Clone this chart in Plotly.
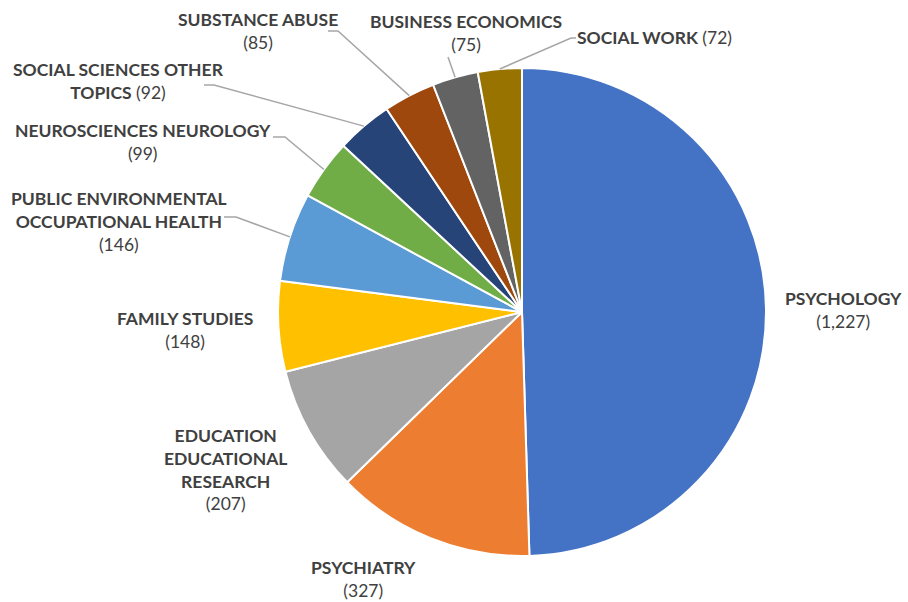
import math
import plotly.graph_objects as go

# Web of Science research areas and record counts
categories = [
    "PSYCHOLOGY", "PSYCHIATRY", "EDUCATION EDUCATIONAL RESEARCH", "FAMILY STUDIES",
    "PUBLIC ENVIRONMENTAL OCCUPATIONAL HEALTH", "NEUROSCIENCES NEUROLOGY",
    "SOCIAL SCIENCES OTHER TOPICS", "SUBSTANCE ABUSE", "BUSINESS ECONOMICS", "SOCIAL WORK",
]
counts = [1227, 327, 207, 148, 146, 99, 92, 85, 75, 72]

# How each category name is broken onto lines in its label
label_lines = [
    ["PSYCHOLOGY"], ["PSYCHIATRY"], ["EDUCATION", "EDUCATIONAL", "RESEARCH"],
    ["FAMILY STUDIES"], ["PUBLIC ENVIRONMENTAL", "OCCUPATIONAL HEALTH"],
    ["NEUROSCIENCES NEUROLOGY"], ["SOCIAL SCIENCES OTHER", "TOPICS"],
    ["SUBSTANCE ABUSE"], ["BUSINESS ECONOMICS"], ["SOCIAL WORK"],
]
# value goes on its own line (True) or after the last name line (False)
value_own_line = [True, True, True, True, True, True, False, True, True, False]

colors = ["#4472C4", "#ED7D31", "#A5A5A5", "#FFC000", "#5B9BD5",
          "#70AD47", "#264478", "#9E480E", "#636363", "#997300"]

# ---- layout (pixels) ----
W, H = 908, 602
CX, CY, R = 522, 312, 244

# label text positions (x, y, anchor)
label_pos = [
    (843, 310, "center"), (363, 579, "center"), (225, 469, "center"),
    (185, 330, "center"), (119, 222, "center"), (143, 142, "center"),
    (118, 81, "center"), (258, 31, "center"), (466, 33, "center"),
    (575, 37, "left"),
]
# leader line: points from the label side toward the slice edge (None = no line)
leader_pts = [
    None, None, None, None,
    [(224, 217), (236, 217)],
    [(273, 137), (285, 137)],
    [(204, 85), (214, 85)],
    [(328, 31), (338, 31)],
    [(448, 57)],
    [(576, 38), (571, 38)],
]

TEXT = "#404040"
FONT = "Lato"
FS = 17.5


def px(x):
    return x / W


def py(y):
    return 1 - y / H


fig = go.Figure(go.Pie(
    labels=categories, values=counts, sort=False, direction="clockwise", rotation=0,
    marker=dict(colors=colors, line=dict(color="white", width=2)),
    textinfo="none", hoverinfo="label+value", showlegend=False,
    domain=dict(x=[px(CX - R), px(CX + R)], y=[py(CY + R), py(CY - R)]),
))

total = sum(counts)
shapes = []
annotations = []
cum = 0
for i, v in enumerate(counts):
    mid = (cum + v / 2) / total * 2 * math.pi
    cum += v
    ex = CX + R * math.sin(mid)
    ey = CY - R * math.cos(mid)
    if leader_pts[i]:
        pts = leader_pts[i] + [(ex, ey)]
        path = "M " + " L ".join(f"{px(x)},{py(y)}" for x, y in pts)
        shapes.append(dict(type="path", path=path, xref="paper", yref="paper",
                           line=dict(color="#A6A6A6", width=1.5)))

    names = label_lines[i]
    val = f"({v:,})"
    if value_own_line[i]:
        text = "<br>".join(f"<b>{n}</b>" for n in names) + "<br>" + val
    else:
        text = "<br>".join(f"<b>{n}</b>" for n in names) + " " + val
    lx, ly, anc = label_pos[i]
    annotations.append(dict(
        x=px(lx), y=py(ly), xref="paper", yref="paper", text=text, showarrow=False,
        xanchor=anc, yanchor="middle", align="center",
        font=dict(family=FONT, size=FS, color=TEXT),
    ))

fig.update_layout(
    width=W, height=H, margin=dict(l=0, r=0, t=0, b=0),
    paper_bgcolor="white", plot_bgcolor="white",
    shapes=shapes, annotations=annotations,
)

fig.write_html("out.html")
